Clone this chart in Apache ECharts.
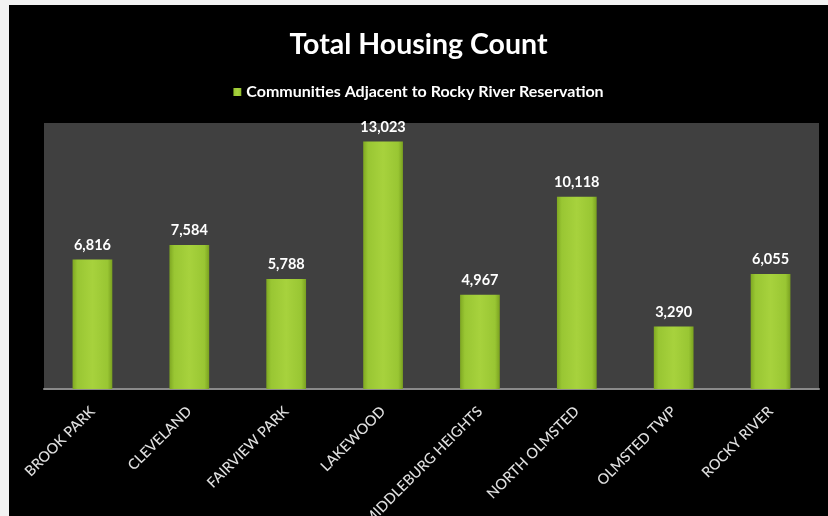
<!DOCTYPE html>
<html>
<head>
<meta charset="utf-8">
<script src="https://cdn.jsdelivr.net/npm/echarts@6/dist/echarts.min.js"></script>
<style>
  html, body { margin: 0; padding: 0; background: #f2f2f2; width: 828px; height: 516px; overflow: hidden; }
  #chart { position: absolute; left: 9px; top: 5px; width: 819px; height: 511px; background: #000; }
</style>
</head>
<body>
<div id="chart"></div>
<script>
const categories = ['BROOK PARK', 'CLEVELAND', 'FAIRVIEW PARK', 'LAKEWOOD', 'MIDDLEBURG HEIGHTS', 'NORTH OLMSTED', 'OLMSTED TWP', 'ROCKY RIVER'];
const housingUnits = [6816, 7584, 5788, 13023, 4967, 10118, 3290, 6055];
const seriesName = 'Communities Adjacent to Rocky River Reservation';
const chartTitle = 'Total Housing Count';

const font = 'Lato, "Open Sans", sans-serif';
const barFill = new echarts.graphic.LinearGradient(0, 0, 1, 0, [
  { offset: 0, color: '#7fa822' },
  { offset: 0.12, color: '#99c633' },
  { offset: 0.5, color: '#a7d23d' },
  { offset: 0.88, color: '#99c633' },
  { offset: 1, color: '#7aa120' }
]);

const chart = echarts.init(document.getElementById('chart'), null, { renderer: 'canvas' });
chart.setOption({
  backgroundColor: '#000',
  animation: false,
  title: {
    text: chartTitle,
    left: 'center',
    top: 20,
    textStyle: { color: '#ffffff', fontFamily: font, fontWeight: 'bold', fontSize: 28.5 }
  },
  legend: {
    data: [seriesName],
    top: 74,
    left: 'center',
    itemWidth: 8,
    itemHeight: 8,
    itemGap: 6,
    icon: 'rect',
    textStyle: { color: '#ffffff', fontFamily: font, fontSize: 16, fontWeight: 'bold' }
  },
  grid: {
    left: 35, right: 9, top: 118, bottom: 127,
    outerBoundsMode: 'none',
    containLabel: false,
    show: true,
    backgroundColor: '#404040',
    borderWidth: 0
  },
  xAxis: {
    type: 'category',
    data: categories,
    axisLine: { lineStyle: { color: '#8a8a8a', width: 2 } },
    axisTick: { show: false },
    axisLabel: {
      rotate: 45,
      interval: 0,
      margin: 20,
      color: '#e0e0e0',
      fontFamily: font,
      fontWeight: 500,
      fontSize: 14.5
    }
  },
  yAxis: {
    type: 'value',
    min: 0,
    max: 14000,
    show: false,
    splitLine: { show: false }
  },
  series: [{
    name: seriesName,
    type: 'bar',
    data: housingUnits,
    barWidth: '41%',
    itemStyle: { color: barFill },
    label: {
      show: true,
      position: 'top',
      distance: 7,
      color: '#ffffff',
      fontFamily: font,
      fontWeight: 'bold',
      fontSize: 14.5,
      formatter: p => p.value.toLocaleString('en-US')
    }
  }]
});
</script>
</body>
</html>
